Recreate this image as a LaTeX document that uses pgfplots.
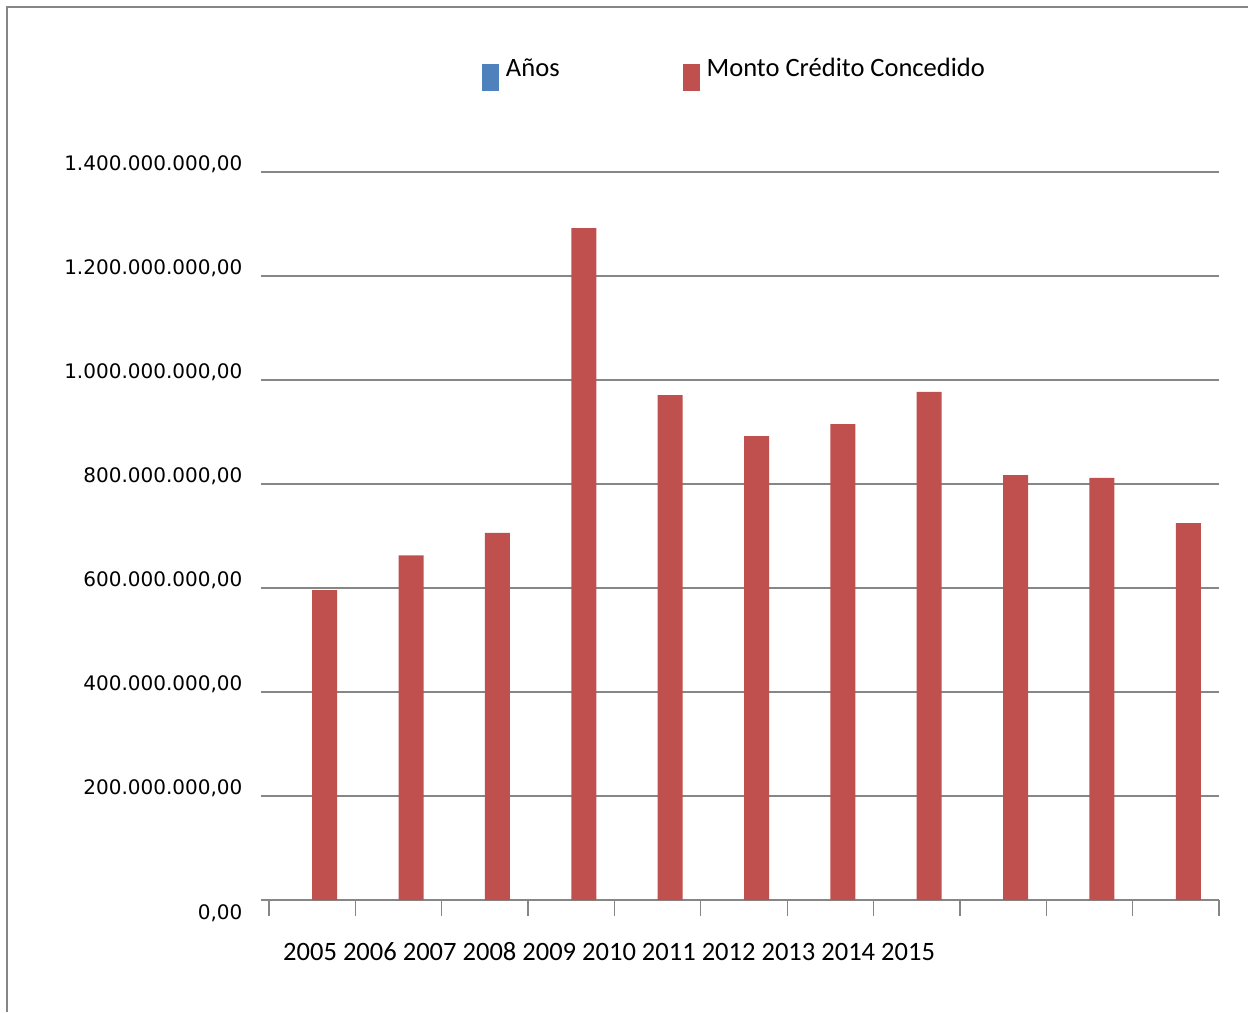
\documentclass[border=0pt]{standalone}
\usepackage{pgfplots}
\pgfplotsset{compat=1.18}
\usepackage{fontspec}
\setmainfont{Carlito}
\newfontfamily\dejavu{DejaVu Sans}
\definecolor{gridgray}{RGB}{134,134,134}
\definecolor{barred}{RGB}{192,80,77}
\definecolor{barblue}{RGB}{79,129,189}
\newlength\p
\setlength\p{0.36pt}
\newcommand\zerolabel{0,00}
\begin{document}
\begin{tikzpicture}
\useasboundingbox (0,0) rectangle (1248\p,-1012\p);
\draw[gridgray, line width=2\p] (6.5\p,-1012\p) -- (6.5\p,-6.5\p) -- (1248\p,-6.5\p);
\begin{axis}[
  at={(269\p,-900\p)}, anchor=south west,
  scale only axis, width=950\p, height=728\p,
  xmin=-0.5, xmax=10.5, ymin=0, ymax=1400000000,
  scaled y ticks=false,
  axis x line*=bottom, axis y line*=left,
  x axis line style={draw=gridgray, line width=1.3\p, -},
  y axis line style={draw=none},
  xtick align=outside,
  ytick align=center,
  major tick length=15.5\p,
  xtick={-0.5,0.5,1.5,2.5,3.5,4.5,5.5,6.5,7.5,8.5,9.5,10.5},
  xticklabels={},
  xtick style={draw=gridgray, line width=1.3\p},
  ytick={200000000,400000000,600000000,800000000,1000000000,1200000000,1400000000},
  yticklabels={{200.000.000,00},{400.000.000,00},{600.000.000,00},{800.000.000,00},{1.000.000.000,00},{1.200.000.000,00},{1.400.000.000,00}},
  extra y ticks={0}, extra y tick labels={\zerolabel},
  extra y tick style={yticklabel style={yshift=-20.5\p}},
  ytick style={draw=gridgray, line width=1.3\p},
  ymajorgrids, major grid style={draw=gridgray, line width=1.3\p},
  yticklabel style={font=\dejavu\fontsize{7.2pt}{8pt}\selectfont, anchor=base east, inner sep=0pt, xshift=-18.3\p, yshift=1.5\p},
  yticklabel shift=0pt,
  legend columns=2,
  legend style={at={(axis description cs:0.2242,1.1113)}, anchor=south west, draw=none, fill=none, inner sep=0pt, outer sep=0pt,
    font=\fontsize{9.55pt}{11pt}\selectfont,
    nodes={inner sep=0pt, text height=17\p, text depth=0pt},
    /tikz/every odd column/.style={column sep=7\p},
    /tikz/every even column/.style={column sep=123\p}},
  legend image code/.code={\fill[#1] (0pt,-22.5\p) rectangle (17\p,4.5\p);},
]
\addlegendimage{fill=barblue, draw=none}
\addlegendentry{Años}
\addplot[ybar, bar width=0.2895, bar shift=0.1447, fill=barred, draw=none] coordinates {
(0,596000000) (1,663000000) (2,706000000) (3,1292000000) (4,971000000) (5,892000000)
(6,915000000) (7,977000000) (8,817000000) (9,812000000) (10,725000000)};
\addlegendentry{Monto Crédito Concedido}
\end{axis}
\node[font=\fontsize{9.55pt}{11pt}\selectfont, anchor=base, inner sep=0pt] at (609\p,-960\p) {2005 2006 2007 2008 2009 2010 2011 2012 2013 2014 2015};
\end{tikzpicture}
\end{document}
